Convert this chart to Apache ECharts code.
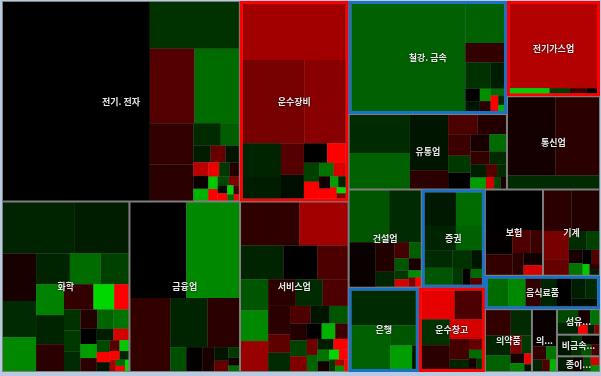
<!DOCTYPE html>
<html><head><meta charset="utf-8">
<script src="https://cdn.jsdelivr.net/npm/echarts@6/dist/echarts.min.js"></script>
<style>html,body{margin:0;padding:0;background:#b8cadf;} #c{width:601px;height:376px;}</style>
</head><body><div id="c"></div>
<script>
// Sector names (as displayed)
const sectorNames = ['전기. 전자','운수장비','화학','금융업','서비스업','철강. 금속','유통업','전기가스업','통신업','건설업','증권','은행','운수창고','보험','기계','음식료품','의약품','의...','섬유...','비금속...','종이...'];
const redSectors = ['운수장비','전기가스업','운수창고'];
const blueSectors = ['철강. 금속','증권','은행','음식료품'];

// Stock market caps (relative) and daily changes (%) per sector
const elecCaps = [30200,4320,3440,3420,1860,1620,640,420,300,260,230,210,200,180,160,150,140,120,110,100,90,80,70,60,50,40,30];
const elecChg  = [0,-0.7,1.0,-1.5,0.6,0.5,-0.6,-1.3,-0.4,1.2,-0.3,2.2,0.1,-2.5,2.8,-0.8,0.4,-2.8,3,-1,1.5,-0.2,3,-3,0.8,-1.5,3];
const transCaps = [6400,5700,3800,1430,900,800,600,500,400,320,280,220,180,150,120,100,90,80,60,50];
const transChg  = [1.9,1.4,1.6,-0.5,-0.4,1.0,-0.2,0,3,-0.9,3,-1.6,2.6,0.2,3,-2.2,-0.5,3,-3,1.5];
const chemCaps = [3800,2900,1650,1250,1170,1090,990,900,900,850,780,780,550,375,360,360,340,340,324,300,260,240,220,200,180,160,140,120,110,100,90,80,70,60,50,40];
const chemChg  = [-0.5,-0.4,0.3,-0.6,-1.9,-0.5,-1.5,-0.9,-1.8,-0.5,0.5,0.6,-3,3,-0.7,-0.8,-0.6,0.4,-1.4,-1.6,0,-2.2,0.5,-0.4,2.5,-1,3,-0.3,1,-2.8,3,-0.5,2,-1.5,3,-3];
const finCaps = [5590,5290,3050,1920,1630,400,400,300,200,150,120,90,60];
const finChg  = [0,-1.9,0.6,-0.5,0.5,-1.1,0.05,0.3,-0.3,1.2,-0.8,0.2,-1.5];
const servCaps = [2640,2180,1500,1200,1075,890,870,850,775,750,700,650,425,420,380,350,330,300,280,260,240,220,200,180,180,180,160,140,120,100,90,70,60,50,40];
const servChg  = [0.55,1.9,-0.5,0,0.9,-1.2,-1.9,1.8,0.5,-0.6,0.9,0.5,1.1,-0.6,0.9,-0.3,-1.2,0.4,-0.9,1.5,0,-2.5,0.7,1.3,-1.4,-0.4,3,-1.6,0.2,-3,3,-0.8,2,-2,3];
const steelCaps = [13600,1680,840,730,400,200,160,150,120,100,80,60,50,40];
const steelChg  = [-1.35,-1.35,0.6,-0.7,-0.4,0,-0.3,-2,0.5,-1.5,3,-0.6,3,-2.5];
const distCaps = [2430,2260,2240,736,600,575,506,400,374,350,300,260,220,220,180,150,120,100,80,65];
const distChg  = [-0.6,-1.35,-0.3,0.5,0.9,0.4,0.7,-0.8,0,0.3,-1.5,0.6,-0.6,-0.4,-2.2,1,-0.6,2.5,-1,0.3];
const utilCaps = [8500,234,120,100,60];
const utilChg  = [2.1,-2.9,-0.8,0.7,0.1];
const telCaps = [3950,3625,1260];
const telChg  = [0.25,0.5,-0.6];
const constCaps = [2180,1740,1240,600,300,250,200,180,160,130,110,90,70,50];
const constChg  = [-1.2,-0.6,0.1,0.4,-0.5,0.8,-1.3,-1.2,0.3,-0.8,2.5,-2,1.5,3];
const secCaps = [1250,1040,900,750,590,560,420,240,190,150,120,90];
const secChg  = [-0.35,-1.5,-0.5,-1.35,-0.6,-1.2,-0.7,-0.3,-0.8,0.05,-1.5,1.0];
const bankCaps = [2665,2018,618,618,103];
const bankChg  = [-0.6,-1.35,-1.2,-2.2,-0.3];
const shipCaps = [1135,946,872,803,757,475,220,170,130,100,68];
const shipChg  = [2.7,0.9,-0.7,0.5,2.5,0.8,-0.5,1.2,-1.5,0.3,-0.8];
const insCaps = [2390,692,584,450,288,265,242,190];
const insChg  = [0,0.05,0.6,0.9,0.7,0.5,0.2,2.5];
const machCaps = [1200,1200,756,420,364,250,200,170,140,110,80,60,50];
const machChg  = [0.5,0.4,1.4,1.2,-0.6,-0.9,0.3,-1.6,0,1,-2.8,0.5,-0.4];
const foodCaps = [730,620,548,548,545,365,293,261];
const foodChg  = [-1.5,-1.9,0.6,-0.5,0,-0.4,-0.6,-0.2];
const pharmCaps = [690,560,540,420,220,180,150,120,80,48];
const pharmChg  = [0.6,-0.6,-0.5,-1.35,1.5,-0.8,0.3,-1.8,2.8,-0.3];
const medCaps = [950,200,150,120,100,80];
const medChg  = [0.1,0.6,-1.6,-0.5,0.9,-2.5];
const textCaps = [300,250,200,150,100,70,48];
const textChg  = [-1.0,-0.5,0.3,-1.6,3,-0.4,1.5];
const nonmetCaps = [300,250,180,120,96];
const nonmetChg  = [-0.3,-0.7,0.1,-1.2,0.8];
const paperCaps = [250,180,120,80,58];
const paperChg  = [-0.4,0.2,-1.0,2.5,-2];

const capsList = [elecCaps,transCaps,chemCaps,finCaps,servCaps,steelCaps,distCaps,utilCaps,telCaps,constCaps,secCaps,bankCaps,shipCaps,insCaps,machCaps,foodCaps,pharmCaps,medCaps,textCaps,nonmetCaps,paperCaps];
const chgList  = [elecChg,transChg,chemChg,finChg,servChg,steelChg,distChg,utilChg,telChg,constChg,secChg,bankChg,shipChg,insChg,machChg,foodChg,pharmChg,medChg,textChg,nonmetChg,paperChg];

// Grouping of sectors (indices into sectorNames)
const groupTree = [[[0,1],[2,3,4]], [[[5,6],[7,8]], [[[9,10],[11,12]], [[[13,14],15],[16,17,[[18,19],20]]]]]];

const CLEAR = 'rgba(0,0,0,0)';
function chgColor(v) {
  const t = Math.min(Math.abs(v) / 3, 1);
  return v >= 0 ? 'rgb(' + Math.round(255 * t) + ',0,0)' : 'rgb(0,' + Math.round(215 * t) + ',0)';
}
function build(node, withStocks) {
  if (Array.isArray(node)) {
    return { name: '', itemStyle: { borderWidth: 0, gapWidth: 0, borderColor: withStocks ? '#7f7f7f' : CLEAR },
      children: node.map(n => build(n, withStocks)) };
  }
  const name = sectorNames[node];
  const caps = capsList[node], chg = chgList[node];
  if (withStocks) {
    const hl = redSectors.includes(name) ? '#ff0000' : (blueSectors.includes(name) ? '#1a72c8' : null);
    return { name: name,
      itemStyle: { borderWidth: hl ? 3 : 1, borderColor: hl || '#7f7f7f', gapWidth: 0 },
      children: caps.map((v, k) => ({ name: name + '-' + (k + 1), value: v,
        itemStyle: { color: chgColor(chg[k]), borderWidth: 0 } })) };
  }
  return { name: name, value: caps.reduce((a, b) => a + b, 0),
    itemStyle: { color: CLEAR, borderColor: CLEAR, borderWidth: 0 } };
}

const base = {
  type: 'treemap', left: 2, top: 1, right: 1, bottom: 4,
  roam: false, nodeClick: false, sort: false, squareRatio: 1, visibleMin: 0,
  breadcrumb: { show: false }, animation: false,
  emphasis: { disabled: true }
};

const chart = echarts.init(document.getElementById('c'), null, { renderer: 'canvas' });
chart.setOption({
  animation: false,
  series: [
    Object.assign({}, base, { z: 2,
      itemStyle: { borderWidth: 0, gapWidth: 0, borderColor: '#7f7f7f' },
      label: { show: false }, data: groupTree.map(n => build(n, true)) }),
    Object.assign({}, base, { silent: true, z: 10, zlevel: 1,
      itemStyle: { borderWidth: 0, gapWidth: 0, borderColor: CLEAR, color: CLEAR },
      label: { show: true, position: 'inside', fontSize: 9, fontWeight: 'bold',
        fontFamily: 'Noto Sans CJK KR', color: '#e6e6e6', padding: 0, overflow: 'none',
        textShadowColor: 'rgba(0,0,0,0.9)', textShadowBlur: 2 },
      data: groupTree.map(n => build(n, false)) })
  ]
});
</script></body></html>
